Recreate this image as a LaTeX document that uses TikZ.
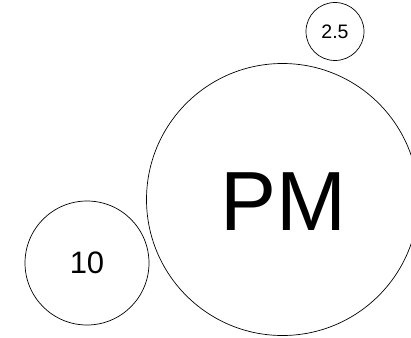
\documentclass[tikz,border=0pt]{standalone}
\usepackage{fontspec}
\setmainfont{Liberation Sans}
\begin{document}
\begin{tikzpicture}[x=1pt,y=-1pt,
  bubble/.style={draw=black,line width=0.7pt,circle,inner sep=0pt}]
\useasboundingbox (0,0) rectangle (411,337);
\begin{scope}
\clip (0,0) rectangle (411,337);
\node[bubble,minimum size=272pt] (pm) at (282.5,199.5) {};
\end{scope}
\node at (283,202) {\fontsize{84}{90}\selectfont PM};
\node[bubble,minimum size=124pt] (ten) at (87,263) {\fontsize{31}{36}\selectfont 10};
\node[bubble,minimum size=58pt] (two) at (335,31.5) {\fontsize{19.5}{24}\selectfont 2.5};
\end{tikzpicture}
\end{document}
